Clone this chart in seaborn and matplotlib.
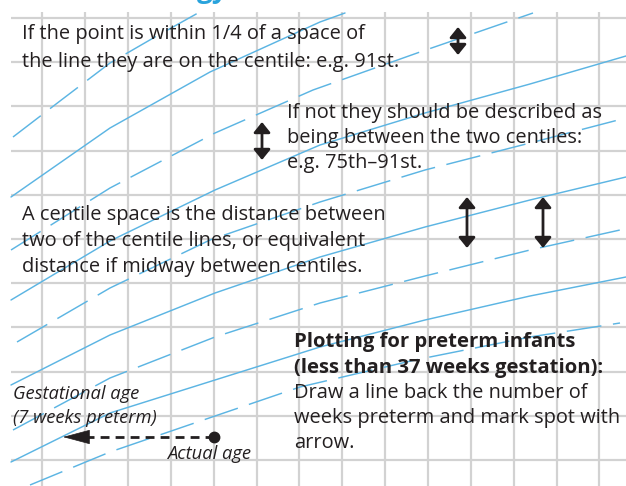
import numpy as np
import matplotlib
matplotlib.use("Agg")
import matplotlib.pyplot as plt
import seaborn as sns

# centile curves (pixel coords, y downward)
c1_x = [13, 60, 110, 155, 198]
c1_y = [137, 101, 63, 37, 13]
c2_x = [11, 110, 210, 320, 345]
c2_y = [197, 128, 72, 22, 13]
c3_x = [11, 110, 215, 313, 420, 533]
c3_y = [250, 188, 133, 90, 52, 13]
c4_x = [11, 110, 215, 320, 425, 530, 626]
c4_y = [300, 241, 190, 145, 113, 84, 56]
c5_x = [17, 110, 210, 320, 425, 530, 622]
c5_y = [342, 288, 240, 202, 170, 143, 119]
c6_x = [11, 110, 215, 320, 425, 530, 626]
c6_y = [385, 335, 293, 257, 227, 200, 177]
c7_x = [13, 110, 215, 320, 425, 530, 620]
c7_y = [430, 378, 337, 303, 276, 250, 230]
c8_x = [11, 110, 215, 320, 425, 530, 626]
c8_y = [462, 413, 380, 347, 320, 296, 277]
c9_x = [30, 110, 215, 300, 415, 530, 620]
c9_y = [485, 452, 416, 387, 360, 337, 323]

curves = [(c1_x, c1_y, "dash"), (c2_x, c2_y, "solid"), (c3_x, c3_y, "dash"),
          (c4_x, c4_y, "solid"), (c5_x, c5_y, "dash"), (c6_x, c6_y, "solid"),
          (c7_x, c7_y, "dash"), (c8_x, c8_y, "solid"), (c9_x, c9_y, "dash")]

# double arrows: x, top, bottom
arrows_x = [458, 262, 467, 543]
arrows_top = [27, 122, 197, 197]
arrows_bot = [55, 160, 248, 248]

# preterm example: actual age point and gestational age
actual_age = (214, 437)
gest_age = (63, 437)

text1 = ["If the point is within 1/4 of a space of",
         "the line they are on the centile: e.g. 91st."]
text2 = ["If not they should be described as",
         "being between the two centiles:",
         "e.g. 75th\u201391st."]
text3 = ["A centile space is the distance between",
         "two of the centile lines, or equivalent",
         "distance if midway between centiles."]
text4_bold = ["Plotting for preterm infants",
              "(less than 37 weeks gestation):"]
text4 = ["Draw a line back the number of",
         "weeks preterm and mark spot with",
         "arrow."]

BLUE = "#5cb5e3"
INK = "#231f20"
GRID = "#d2d2d2"


def main():
    sns.set_style("white")
    plt.rcParams['font.family'] = ['Open Sans', 'DejaVu Sans']

    fig = plt.figure(figsize=(6.26, 4.86), dpi=100)
    ax = fig.add_axes([0, 0, 1, 1])
    ax.set_xlim(0, 626)
    ax.set_ylim(486, 0)
    ax.axis("off")

    # squared paper
    vx = 42.3 + 42.85 * np.arange(14)
    hy = 18 + 44.2 * np.arange(11)
    ax.vlines(vx, 12, 486, color=GRID, lw=1.6, zorder=1)
    ax.hlines(hy, 11, 626, color=GRID, lw=1.6, zorder=1)

    for cx, cy, kind in curves:
        ls = (0, (24, 8)) if kind == "dash" else "-"
        sns.lineplot(x=cx, y=cy, ax=ax, color=BLUE, lw=1.05, linestyle=ls,
                     sort=False, estimator=None, zorder=2)

    for x, t, b in zip(arrows_x, arrows_top, arrows_bot):
        ax.annotate("", xy=(x, t), xytext=(x, b),
                    arrowprops=dict(arrowstyle="<|-|>,head_length=0.62,head_width=0.5",
                                    mutation_scale=10, lw=2.0, color=INK,
                                    shrinkA=0, shrinkB=0), zorder=4)

    # preterm arrow
    ax.plot([actual_age[0], gest_age[0] + 20], [actual_age[1], gest_age[1]],
            color=INK, lw=2.0, linestyle=(0, (3.2, 2.2)), zorder=4)
    ax.annotate("", xy=gest_age, xytext=(gest_age[0] + 24, gest_age[1]),
                arrowprops=dict(arrowstyle="-|>,head_length=1.5,head_width=0.4",
                                mutation_scale=12, lw=0.5, color=INK,
                                shrinkA=0, shrinkB=0), zorder=4)
    ax.plot(*actual_age, "o", color=INK, ms=7.5, zorder=5)

    fs = 14.4
    for i, s in enumerate(text1):
        ax.text(22, 39.5 + 27 * i, s, fontsize=fs, color=INK, va="baseline", zorder=3)
    for i, s in enumerate(text2):
        ax.text(287, 118 + 25 * i, s, fontsize=fs, color=INK, va="baseline", zorder=3)
    for i, s in enumerate(text3):
        ax.text(22, 220 + 26 * i, s, fontsize=fs, color=INK, va="baseline", zorder=3)
    for i, s in enumerate(text4_bold):
        ax.text(294, 347 + 25.5 * i, s, fontsize=14.6, color=INK, weight="bold",
                va="baseline", zorder=3)
    for i, s in enumerate(text4):
        ax.text(294, 398 + 25 * i, s, fontsize=fs, color=INK, va="baseline", zorder=3)

    ax.text(13, 399, "Gestational age", fontsize=13.2, style="italic", color=INK,
            va="baseline", zorder=3)
    ax.text(13, 423, "(7 weeks preterm)", fontsize=13.2, style="italic", color=INK,
            va="baseline", zorder=3)
    ax.text(167, 459, "Actual age", fontsize=13.2, style="italic", color=INK,
            va="baseline", zorder=3)

    # bottom of the clipped heading
    ax.text(228, -3, "gy", fontsize=20, weight="bold", color="#29a3dc",
            ha="right", va="baseline", zorder=3)

    fig.savefig("out.png", dpi=100)


if __name__ == '__main__':
    main()
